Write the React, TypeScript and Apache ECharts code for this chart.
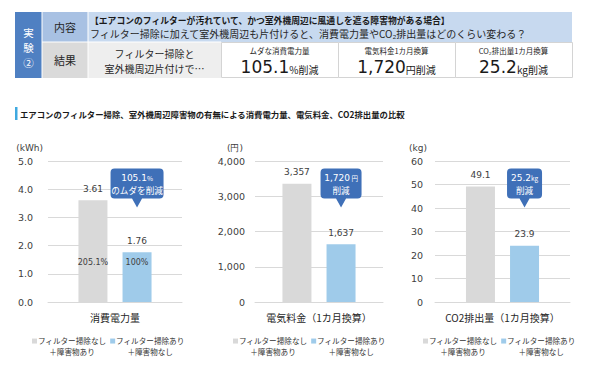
import React, { useEffect, useRef } from "react";
import * as echarts from "echarts";

const CATEGORIES = ["消費電力量", "電気料金（1カ月換算）", "CO2排出量（1カ月換算）"];
const SERIES_NAMES = ["フィルター掃除なし＋障害物あり", "フィルター掃除あり＋障害物なし"];
const BEFORE = [3.61, 3357, 49.1];
const AFTER = [1.76, 1637, 23.9];
const POWER_SHARE = ["205.1%", "100%"];
const UNITS = ["(kWh)", "(円)", "(kg)"];
const Y_MAX = [5, 4000, 60];
const Y_INTERVAL = [1, 1000, 10];
const CALLOUT_MAIN = ["105.1", "1,720", "25.2"];
const CALLOUT_UNIT = ["%", " 円", "kg"];
const CALLOUT_LINE2 = ["のムダを削減", "削減", "削減"];
const RESULT_LABELS = ["ムダな消費電力量", "電気料金1カ月換算", "CO₂排出量1カ月換算"];
const RESULT_VALUES = ["105.1", "1,720", "25.2"];
const RESULT_UNITS = ["%削減", "円削減", "kg削減"];
const EXPERIMENT_CHARS = ["実", "験", "②"];

const JP = '"Noto Sans CJK JP", sans-serif';
const NUM = '"DejaVu Sans", sans-serif';
const GRAY = "#d9d9d9";
const BLUE = "#9fcbea";
const CALLOUT = "#3f70b8";
const TXT = "#404040";

const GRIDS = [
  { left: 48, top: 161, width: 134, height: 141 },
  { left: 255, top: 161, width: 128, height: 141 },
  { left: 435, top: 161, width: 135, height: 141 },
];
const LABEL_MARGIN = [15, 10, 12];
const NAME_PAD = [5, 12, 8];
const LEGEND_LEFT = [32, 233, 423];
const CALLOUT_W = [53, 41, 35];
const CALLOUT_ANCHOR = 0.67;

function calloutPath(W: number) {
  const H = 30, T = 9, r = 4, hw = 5;
  return `path://M${r},0 H${W - r} Q${W},0 ${W},${r} V${H - r} Q${W},${H} ${W - r},${H} H${W / 2 + hw} L${W / 2},${H + T} L${W / 2 - hw},${H} H${r} Q0,${H} 0,${H - r} V${r} Q0,0 ${r},0 Z`;
}

function fmt(i: number, v: number) {
  if (i === 0) return v.toFixed(2);
  if (i === 1) return v.toLocaleString("en-US");
  return v.toFixed(1);
}
function axisFmt(i: number, v: number) {
  if (i === 0) return v.toFixed(1);
  if (i === 1) return v.toLocaleString("en-US");
  return String(v);
}

export default function App() {
  const ref = useRef<HTMLDivElement>(null);
  useEffect(() => {
    const chart = echarts.init(ref.current!, undefined, { renderer: "svg" });
    const grid: any[] = [];
    const xAxis: any[] = [];
    const yAxis: any[] = [];
    const series: any[] = [];
    const legend: any[] = [];
    for (let i = 0; i < 3; i++) {
      grid.push(GRIDS[i]);
      xAxis.push({
        type: "category",
        gridIndex: i,
        data: [CATEGORIES[i]],
        axisLine: { lineStyle: { color: GRAY } },
        axisTick: { show: false },
        axisLabel: { color: "#262626", fontSize: 10, fontFamily: JP, margin: 10 },
      });
      yAxis.push({
        type: "value",
        gridIndex: i,
        min: 0,
        max: Y_MAX[i],
        interval: Y_INTERVAL[i],
        name: UNITS[i],
        nameLocation: "end",
        nameGap: 9,
        nameTextStyle: { color: TXT, fontSize: 9, fontFamily: NUM, align: "right", padding: [0, NAME_PAD[i], 0, 0] },
        axisLine: { show: false },
        axisTick: { show: false },
        splitLine: { lineStyle: { color: GRAY } },
        axisLabel: { color: TXT, fontSize: 9.5, fontFamily: NUM, margin: LABEL_MARGIN[i], formatter: (v: number) => axisFmt(i, v) },
      });
      const lbl = (v: any) => fmt(i, v.value);
      series.push({
        type: "bar",
        name: SERIES_NAMES[0],
        xAxisIndex: i,
        yAxisIndex: i,
        data: [BEFORE[i]],
        barWidth: 29,
        barGap: "52%",
        itemStyle: { color: GRAY },
        label: { show: true, position: "top", distance: 7, color: TXT, fontSize: 9, fontFamily: NUM, formatter: lbl },
      });
      series.push({
        type: "bar",
        name: SERIES_NAMES[1],
        xAxisIndex: i,
        yAxisIndex: i,
        data: [AFTER[i]],
        barWidth: 29,
        barGap: "52%",
        itemStyle: { color: BLUE },
        label: { show: true, position: "top", distance: 7, color: TXT, fontSize: 9, fontFamily: NUM, formatter: lbl },
        markPoint: {
          symbol: calloutPath(CALLOUT_W[i]),
          symbolSize: [CALLOUT_W[i], 39],
          symbolOffset: [0, "-50%"],
          itemStyle: { color: CALLOUT },
          label: {
            show: true,
            position: "inside",
            offset: [0, -4.5],
            formatter: `{b|${CALLOUT_MAIN[i]}}{s|${CALLOUT_UNIT[i]}}\n{c|${CALLOUT_LINE2[i]}}`,
            rich: {
              b: { color: "#fff", fontSize: 9, fontFamily: NUM, lineHeight: 12 },
              s: { color: "#fff", fontSize: 6.5, fontFamily: JP, lineHeight: 12 },
              c: { color: "#fff", fontSize: 8.6, fontFamily: JP, lineHeight: 12 },
            },
          },
          data: [{ coord: [0, Y_MAX[i] * CALLOUT_ANCHOR] }],
        },
      });
      legend.push({
        data: SERIES_NAMES,
        left: LEGEND_LEFT[i],
        top: 337,
        padding: 0,
        itemWidth: 5,
        itemHeight: 5,
        itemGap: 4,
        icon: "rect",
        selectedMode: false,
        formatter: (name: string) => {
          const [a, b] = name.split("＋");
          return `{l|${a}}\n{l|＋${b}}`;
        },
        textStyle: {
          padding: [10, 0, 0, -2],
          rich: { l: { width: 64, align: "center", fontSize: 7.6, lineHeight: 10.5, color: "#333", fontFamily: JP } },
        },
      });
    }
    // helper axis for in-bar share labels (first chart)
    xAxis.push({ type: "category", gridIndex: 0, data: [CATEGORIES[0]], show: false });
    [BEFORE[0], AFTER[0]].forEach((v, k) => {
      series.push({
        type: "bar",
        name: "share" + k,
        xAxisIndex: 3,
        yAxisIndex: 0,
        data: [v],
        barWidth: 29,
        barGap: "52%",
        itemStyle: { color: "rgba(0,0,0,0)" },
        silent: true,
        label: { show: true, position: "insideBottom", distance: 36, color: TXT, fontSize: 8, fontFamily: NUM, formatter: () => POWER_SHARE[k] },
      });
    });

    const resultCells = [221, 338, 455];
    const graphic: any[] = [
      { type: "rect", shape: { x: 15, y: 12, width: 27, height: 66 }, style: { fill: "#4f80c2" } },
      { type: "rect", shape: { x: 42, y: 12, width: 46, height: 30 }, style: { fill: "#a8c1e3" } },
      { type: "rect", shape: { x: 88, y: 12, width: 484, height: 30 }, style: { fill: "#c7d9ef" } },
      { type: "rect", shape: { x: 42, y: 42, width: 46, height: 36 }, style: { fill: "#dadada" } },
      { type: "rect", shape: { x: 88, y: 42, width: 133, height: 36 }, style: { fill: "#eeeeee" } },
      ...resultCells.map((x) => ({ type: "rect", shape: { x: x + 0.5, y: 42.5, width: 117, height: 35 }, style: { fill: "#fff", stroke: "#d4d4d4", lineWidth: 1 } })),
      { type: "line", shape: { x1: 42, y1: 12, x2: 42, y2: 78 }, style: { stroke: "#fff", lineWidth: 1 } },
      { type: "line", shape: { x1: 88, y1: 12, x2: 88, y2: 78 }, style: { stroke: "#fff", lineWidth: 1 } },
      { type: "line", shape: { x1: 42, y1: 42, x2: 221, y2: 42 }, style: { stroke: "#fff", lineWidth: 1 } },
      ...EXPERIMENT_CHARS.map((c, k) => ({ type: "text", x: 28.5, y: 32 + k * 15, style: { text: c, fill: "#fff", fontSize: 10.5, lineHeight: 11, fontFamily: JP, align: "center", verticalAlign: "middle" } })),
      { type: "text", x: 65, y: 27, style: { text: "内容", fill: "#262626", fontSize: 11, fontFamily: JP, align: "center", verticalAlign: "middle" } },
      { type: "text", x: 65, y: 60, style: { text: "結果", fill: "#262626", fontSize: 11, fontFamily: JP, align: "center", verticalAlign: "middle" } },
      { type: "text", x: 90, y: 20, style: { text: "【エアコンのフィルターが汚れていて、かつ室外機周辺に風通しを遮る障害物がある場合】", fill: "#1a1a1a", fontSize: 8.8, fontWeight: "bold", fontFamily: JP, align: "left", verticalAlign: "middle" } },
      { type: "text", x: 90, y: 33, style: { text: "フィルター掃除に加えて室外機周辺も片付けると、消費電力量やCO₂排出量はどのくらい変わる？", fill: "#262626", fontSize: 10, fontFamily: JP, align: "left", verticalAlign: "middle" } },
      { type: "text", x: 154.5, y: 60.5, style: { text: "フィルター掃除と\n室外機周辺片付けで…", fill: "#262626", fontSize: 10, lineHeight: 15, fontFamily: JP, align: "center", verticalAlign: "middle" } },
      ...resultCells.flatMap((x, k) => [
        { type: "text", x: x + 58.5, y: 50, style: { text: RESULT_LABELS[k], fill: "#262626", fontSize: 7.5, fontFamily: JP, align: "center", verticalAlign: "middle" } },
        {
          type: "text", x: x + 58.5, y: 67,
          style: {
            text: `{b|${RESULT_VALUES[k]}}{m|${RESULT_UNITS[k]}}`, align: "center", verticalAlign: "middle",
            rich: {
              b: { fontSize: 17, fontFamily: NUM, fill: "#1a1a1a", color: "#1a1a1a", verticalAlign: "bottom" },
              m: { fontSize: 10, fontFamily: JP, fill: "#1a1a1a", color: "#1a1a1a", verticalAlign: "bottom", padding: [0, 0, 1, 0] },
            },
          },
        },
      ]),
      { type: "rect", shape: { x: 15, y: 107, width: 2.5, height: 13 }, style: { fill: "#3fa9e0" } },
      { type: "text", x: 20, y: 113.5, style: { text: "エアコンのフィルター掃除、室外機周辺障害物の有無による消費電力量、電気料金、CO2排出量の比較", fill: "#1a1a1a", fontSize: 8.4, fontWeight: "bold", fontFamily: JP, align: "left", verticalAlign: "middle" } },
    ];

    chart.setOption({
      animation: false,
      backgroundColor: "#fff",
      textStyle: { fontFamily: JP },
      grid,
      xAxis,
      yAxis,
      series,
      legend,
      graphic,
    });
    return () => chart.dispose();
  }, []);
  return <div ref={ref} style={{ position: "fixed", left: 0, top: 0, width: 590, height: 377 }} />;
}
